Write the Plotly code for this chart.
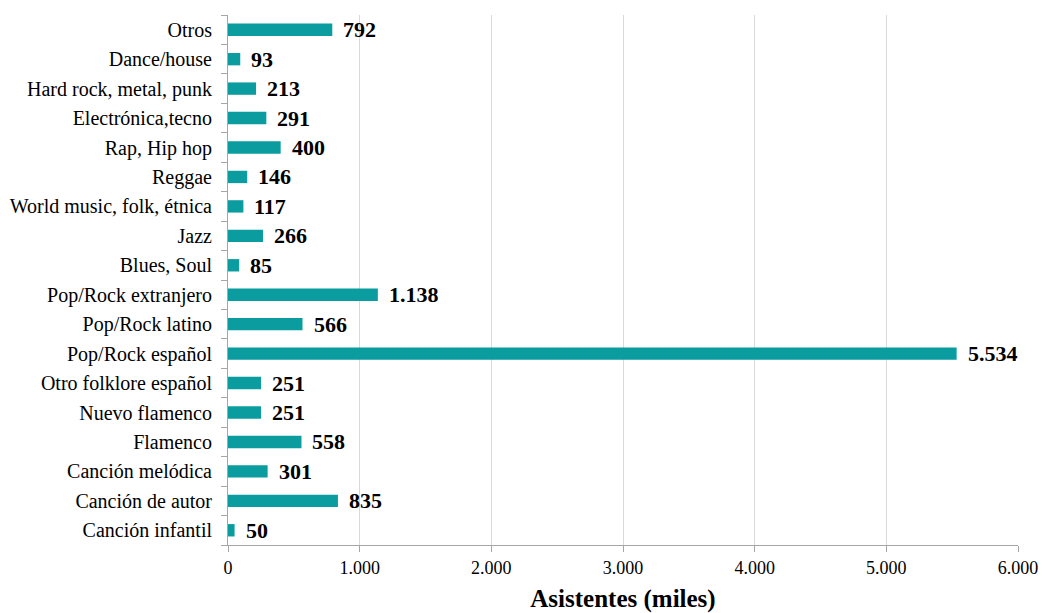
import plotly.graph_objects as go

# Asistentes a conciertos por género musical (miles)
generos = [
    "Canción infantil", "Canción de autor", "Canción melódica", "Flamenco",
    "Nuevo flamenco", "Otro folklore español", "Pop/Rock español",
    "Pop/Rock latino", "Pop/Rock extranjero", "Blues, Soul", "Jazz",
    "World music, folk, étnica", "Reggae", "Rap, Hip hop",
    "Electrónica,tecno", "Hard rock, metal, punk", "Dance/house", "Otros",
]
asistentes = [50, 835, 301, 558, 251, 251, 5534, 566, 1138, 85, 266,
              117, 146, 400, 291, 213, 93, 792]

COLOR = "#0B9CA0"
SERIF = "Liberation Serif"

fig = go.Figure()
fig.add_trace(go.Bar(
    x=asistentes, y=generos, orientation="h",
    marker=dict(color=COLOR, line=dict(width=0)),
    width=0.42,
    hoverinfo="x+y",
))

for g, v in zip(generos, asistentes):
    fig.add_annotation(
        x=v, y=g, xref="x", yref="y",
        text=f"{v:,}".replace(",", "."),
        showarrow=False, xanchor="left", xshift=9,
        font=dict(family=SERIF, size=22, color="black", weight="bold"),
    )

fig.update_layout(
    width=1044, height=613,
    margin=dict(l=228, r=26, t=15, b=68),
    paper_bgcolor="white", plot_bgcolor="white",
    separators=",.",
    showlegend=False,
    font=dict(family=SERIF, color="black"),
    xaxis=dict(
        range=[0, 6000], dtick=1000, tickformat=",d",
        automargin=False,
        showgrid=True, gridcolor="#D9D9D9", gridwidth=1,
        zeroline=False,
        showline=True, linecolor="#A6A6A6", linewidth=1,
        ticks="outside", ticklen=6, tickcolor="#A6A6A6",
        tickfont=dict(family=SERIF, size=18, color="black"),
        title=dict(text="Asistentes (miles)",
                   font=dict(family=SERIF, size=25, color="black", weight="bold"),
                   standoff=12),
    ),
    yaxis=dict(
        categoryorder="array", categoryarray=generos,
        automargin=False,
        showgrid=False, zeroline=False,
        showline=True, linecolor="#A6A6A6", linewidth=1,
        ticks="outside", ticklen=6, tickcolor="#A6A6A6",
        tickson="boundaries",
        tickfont=dict(family=SERIF, size=20, color="black"),
        ticklabelstandoff=11,
    ),
)

fig.write_html("out.html")
